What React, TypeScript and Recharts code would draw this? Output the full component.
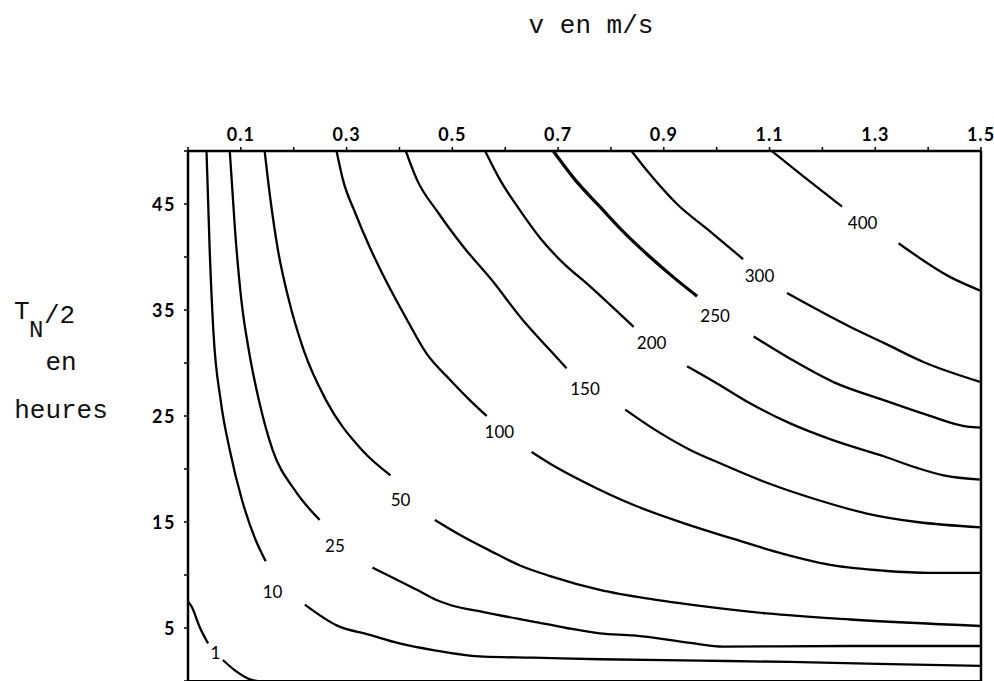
import React from 'react'
import { ComposedChart, Line, Scatter, XAxis, YAxis, ReferenceLine } from 'recharts'

// axis ticks (v in m/s on top, T_N/2 in hours on the left)
const xTicks = [0, 0.1, 0.2, 0.3, 0.4, 0.5, 0.6, 0.7, 0.8, 0.9, 1.0, 1.1, 1.2, 1.3, 1.4, 1.5]
const xTickLabels = ['0.1', '0.3', '0.5', '0.7', '0.9', '1.1', '1.3', '1.5']
const yTicks = [0, 5, 10, 15, 20, 25, 30, 35, 40, 45, 50]
const yTickLabels = ['5', '15', '25', '35', '45']

// contour lines, [v, T] pairs; each one is cut in two where its label sits
const c1Upper = [[0, 7.5], [0.007, 7.0], [0.022, 5.1], [0.038, 3.55]]
const c1Lower = [[0.066, 1.98], [0.09, 0.95], [0.117, 0.16], [0.13, 0]]

const c10Upper = [[0.035, 50], [0.041, 40.7], [0.048, 33.0], [0.062, 26.4], [0.079, 21.8], [0.102, 17.1], [0.128, 13.3], [0.147, 11.3]]
const c10Lower = [[0.221, 7.2], [0.281, 5.25], [0.344, 4.35], [0.4, 3.55], [0.464, 2.92], [0.559, 2.3], [0.653, 2.2], [0.779, 2.05], [0.968, 1.92], [1.138, 1.8], [1.328, 1.6], [1.5, 1.42]]

const c25Upper = [[0.079, 50], [0.089, 42.5], [0.101, 35.9], [0.115, 31.2], [0.134, 26.5], [0.16, 21.8], [0.202, 18.0], [0.249, 15.2]]
const c25Lower = [[0.349, 10.7], [0.433, 8.6], [0.47, 7.64], [0.496, 7.17], [0.559, 6.5], [0.653, 5.6], [0.716, 5.0], [0.779, 4.5], [0.843, 4.3], [0.95, 3.6], [1.013, 3.25], [1.25, 3.3], [1.5, 3.3]]

const c50Upper = [[0.145, 50], [0.156, 45.4], [0.17, 40.7], [0.191, 35.9], [0.219, 31.2], [0.261, 26.5], [0.329, 21.8], [0.383, 19.4]]
const c50Lower = [[0.467, 15.2], [0.514, 13.8], [0.571, 12.3], [0.628, 10.9], [0.685, 9.9], [0.779, 8.6], [0.874, 7.74], [0.969, 7.08], [1.095, 6.37], [1.253, 5.8], [1.5, 5.19]]

const c100Upper = [[0.281, 50], [0.293, 47.3], [0.316, 44.2], [0.344, 40.9], [0.374, 37.8], [0.414, 34.1], [0.451, 30.9], [0.496, 28.4], [0.533, 26.5], [0.565, 25.0]]
const c100Lower = [[0.65, 21.6], [0.685, 20.5], [0.748, 18.8], [0.843, 16.6], [0.937, 14.9], [1.032, 13.4], [1.126, 12.0], [1.221, 10.9], [1.316, 10.4], [1.404, 10.2], [1.5, 10.2]]

const c150Upper = [[0.412, 50], [0.433, 47.3], [0.473, 44.2], [0.522, 40.9], [0.575, 37.8], [0.634, 34.0], [0.685, 31.2], [0.716, 29.5]]
const c150Lower = [[0.827, 25.6], [0.874, 24.0], [0.95, 21.8], [1.013, 20.4], [1.095, 18.7], [1.19, 17.1], [1.284, 15.8], [1.379, 15.0], [1.5, 14.5]]

const c200Upper = [[0.562, 50], [0.59, 47.3], [0.628, 44.4], [0.666, 41.8], [0.704, 39.7], [0.761, 37.2], [0.843, 33.4]]
const c200Lower = [[0.944, 29.7], [1.0, 28.1], [1.063, 26.2], [1.139, 24.3], [1.221, 22.7], [1.316, 21.2], [1.379, 20.1], [1.429, 19.4], [1.5, 19.0]]

const c250Upper = [[0.691, 50], [0.732, 47.3], [0.78, 44.7], [0.827, 42.2], [0.874, 40.0], [0.918, 38.1], [0.963, 36.3]]
const c250Lower = [[1.07, 32.5], [1.139, 30.4], [1.221, 28.2], [1.316, 26.5], [1.398, 25.1], [1.474, 24.0], [1.5, 23.9]]

const c300Upper = [[0.839, 50], [0.874, 47.8], [0.925, 45.0], [0.988, 42.4], [1.05, 39.8]]
const c300Lower = [[1.133, 36.6], [1.253, 33.4], [1.316, 31.9], [1.391, 30.1], [1.5, 28.2]]

const c400Upper = [[1.104, 50], [1.164, 47.6], [1.237, 44.75]]
const c400Lower = [[1.344, 41.3], [1.442, 38.1], [1.5, 36.8]]

// contour values and where their labels sit
const contourLabels = ['1', '10', '25', '50', '100', '150', '200', '250', '300', '400']
const labelV = [0.052, 0.16, 0.278, 0.402, 0.589, 0.751, 0.877, 0.997, 1.081, 1.276]
const labelT = [2.71, 8.42, 12.8, 17.1, 23.5, 27.6, 31.9, 34.5, 38.3, 43.3]

const segments = [
  c1Upper, c1Lower, c10Upper, c10Lower, c25Upper, c25Lower, c50Upper, c50Lower,
  c100Upper, c100Lower, c150Upper, c150Lower, c200Upper, c200Lower,
  c250Upper, c250Lower, c300Upper, c300Lower, c400Upper, c400Lower,
]

const toRows = (pts: number[][]) => pts.map(([v, T]) => ({ v, T }))
const labelRows = contourLabels.map((label, i) => ({ v: labelV[i], T: labelT[i], label }))

const titleFont = { fontFamily: 'Liberation Mono', fontSize: 26, fill: '#111' }

const TopTick = (props: any) => {
  const txt = props.payload.value.toFixed(1)
  if (!xTickLabels.includes(txt)) return null
  return (
    <text x={props.x} y={props.y - 6} textAnchor="middle" fontFamily="Lato" fontWeight={700} fontSize={18} letterSpacing={1} fill="#000">
      {txt}
    </text>
  )
}

const LeftTick = (props: any) => {
  const txt = String(props.payload.value)
  if (!yTickLabels.includes(txt)) return null
  return (
    <text x={props.x - 8} y={props.y} textAnchor="end" dominantBaseline="central" fontFamily="Lato" fontWeight={700} fontSize={18} letterSpacing={1.5} fill="#000">
      {txt}
    </text>
  )
}

const ContourLabel = (props: any) => (
  <text
    x={props.cx}
    y={props.cy}
    textAnchor="middle"
    dominantBaseline="central"
    fontFamily="Lato"
    fontSize={17}
    fill="#000"
  >
    {props.payload.label}
  </text>
)

export default function App() {
  return (
    <div style={{ position: 'absolute', left: 0, top: 0, width: 994, height: 681, overflow: 'hidden', background: '#fff' }}>
      <ComposedChart width={994} height={700} margin={{ top: 121, right: 13, bottom: 19, left: 148 }}>
        <XAxis
          dataKey="v"
          type="number"
          orientation="top"
          domain={[0, 1.5]}
          ticks={xTicks}
          height={30}
          tick={TopTick}
          tickSize={4}
          tickMargin={0}
          tickLine={{ stroke: '#000', strokeWidth: 1.5 }}
          axisLine={{ stroke: '#000', strokeWidth: 2.5 }}
          allowDataOverflow
        />
        <YAxis
          dataKey="T"
          type="number"
          domain={[0, 50]}
          ticks={yTicks}
          width={40}
          tick={LeftTick}
          tickSize={4}
          tickMargin={0}
          tickLine={{ stroke: '#000', strokeWidth: 1.5 }}
          axisLine={{ stroke: '#000', strokeWidth: 2.5 }}
          allowDataOverflow
        />
        <ReferenceLine x={1.5} stroke="#000" strokeWidth={2.5} />
        <ReferenceLine y={0} stroke="#000" strokeWidth={2} />
        {segments.map((seg, i) => (
          <Line
            key={i}
            data={toRows(seg)}
            dataKey="T"
            type="monotone"
            stroke="#000"
            strokeWidth={seg === c250Upper ? 3.2 : 2.3}
            dot={false}
            activeDot={false}
            isAnimationActive={false}
          />
        ))}
        <Scatter data={labelRows} dataKey="T" shape={ContourLabel} isAnimationActive={false} />
      </ComposedChart>
      <svg width={994} height={681} style={{ position: 'absolute', left: 0, top: 0, pointerEvents: 'none' }}>
        <text x={591} y={33} textAnchor="middle" {...titleFont}>v en m/s</text>
        <text x={14} y={319} {...titleFont}>T</text>
        <text x={29} y={337} {...titleFont} fontSize={24}>N</text>
        <text x={44} y={323} {...titleFont}>/2</text>
        <text x={61} y={370} textAnchor="middle" {...titleFont}>en</text>
        <text x={61} y={418} textAnchor="middle" {...titleFont}>heures</text>
      </svg>
    </div>
  )
}
